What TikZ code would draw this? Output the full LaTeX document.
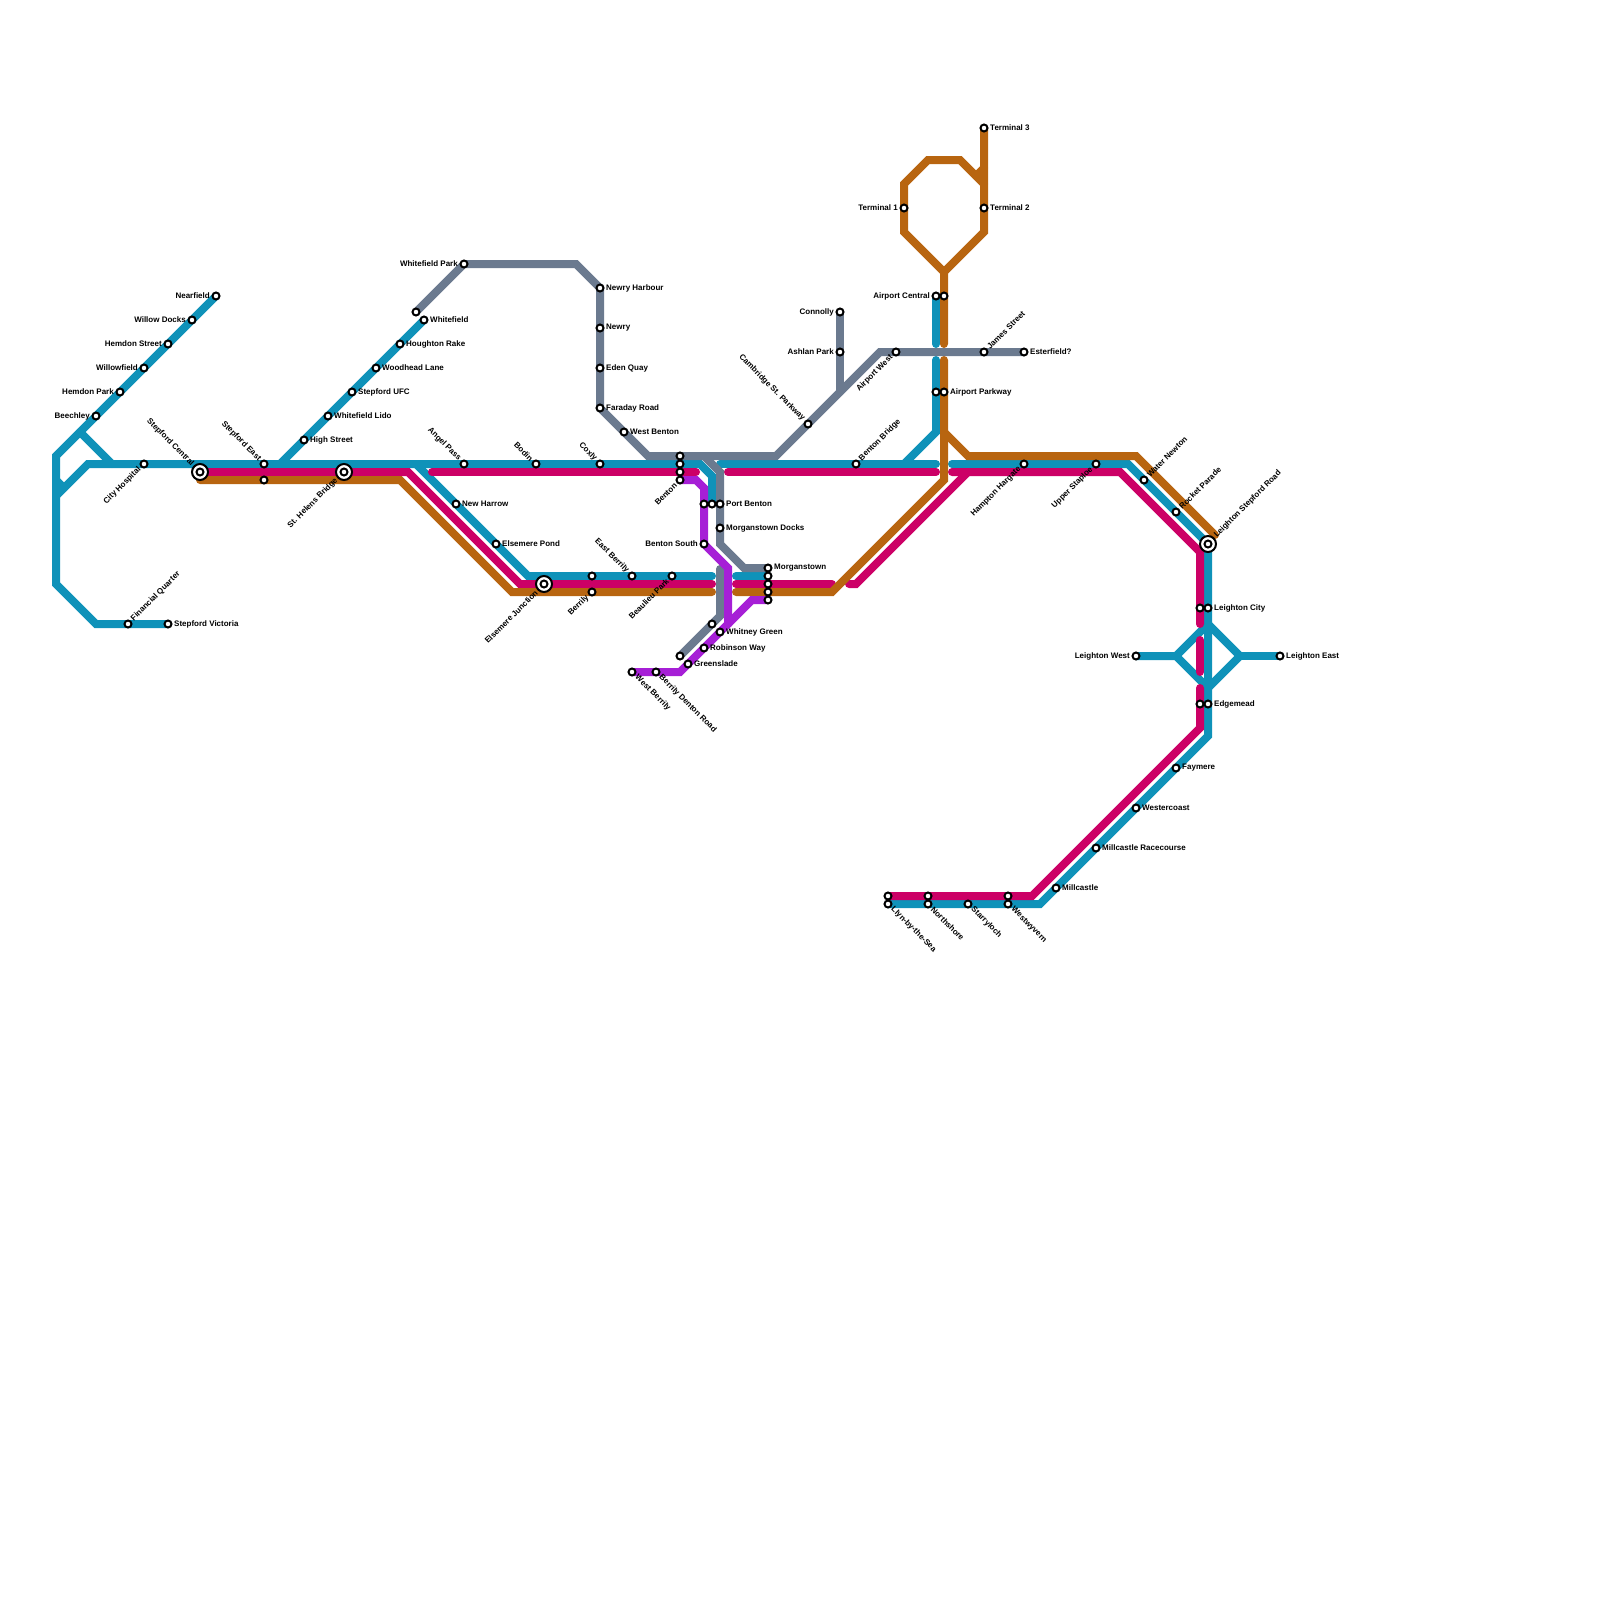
\documentclass[tikz,border=0pt]{standalone}
\usepackage{fontspec}
\setmainfont{Liberation Sans}
\usetikzlibrary{backgrounds}

\definecolor{lineblue}{HTML}{0F92B9}
\definecolor{linepink}{HTML}{CC0066}
\definecolor{lineorange}{HTML}{B86510}
\definecolor{linegrey}{HTML}{6B7A8F}
\definecolor{linepurple}{HTML}{A61FD6}

\tikzset{
  route/.style={line width=8pt, line cap=round, line join=miter, miter limit=10},
  stn/.style={circle, draw=black, fill=white, line width=2pt, minimum size=7pt, inner sep=0pt},
  hub/.style={circle, draw=black, fill=white, line width=2pt, minimum size=16pt, inner sep=0pt},
  lbl/.style={font=\bfseries\fontsize{8}{9}\selectfont, inner sep=1.5pt, text=black},
  lbe/.style={label={[lbl, anchor=west]0:#1}},
  lbw/.style={label={[lbl, anchor=east]180:#1}},
  lne/.style={label={[lbl, rotate=45, anchor=west]45:#1}},
  lsw/.style={label={[lbl, rotate=45, anchor=east]225:#1}},
  lnw/.style={label={[lbl, rotate=-45, anchor=east]135:#1}},
  lse/.style={label={[lbl, rotate=-45, anchor=west]-45:#1}},
}

\begin{document}
\begin{tikzpicture}[x=1pt, y=-1pt]
  \useasboundingbox (0,0) rectangle (1600,1600);

  % --- Western branches ---
  \node[stn, lbw=Nearfield] (nearfield) at (216,296) {};
  \node[stn, lbw=Willow Docks] (willowdocks) at (192,320) {};
  \node[stn, lbw=Hemdon Street] (hemdonst) at (168,344) {};
  \node[stn, lbw=Willowfield] (willowfield) at (144,368) {};
  \node[stn, lbw=Hemdon Park] (hemdonpark) at (120,392) {};
  \node[stn, lbw=Beechley] (beechley) at (96,416) {};
  \node[stn, lsw=City Hospital] (cityhospital) at (144,464) {};
  \node[stn, lne=Financial Quarter] (financial) at (128,624) {};
  \node[stn, lbe=Stepford Victoria] (victoria) at (168,624) {};

  % --- Stepford to Whitefield ---
  \node[hub, lnw=Stepford Central] (central) at (200,472) {};
  \node[stn] (centralin) at (200,472) {};
  \node[stn, lnw=Stepford East] (stepfordeast) at (264,464) {};
  \node[stn] (stepfordeastb) at (264,480) {};
  \node[hub, lsw=St. Helens Bridge] (sthelens) at (344,472) {};
  \node[stn] (sthelensin) at (344,472) {};
  \node[stn, lbe=High Street] (highst) at (304,440) {};
  \node[stn, lbe=Whitefield Lido] (lido) at (328,416) {};
  \node[stn, lbe=Stepford UFC] (ufc) at (352,392) {};
  \node[stn, lbe=Woodhead Lane] (woodhead) at (376,368) {};
  \node[stn, lbe=Houghton Rake] (houghton) at (400,344) {};
  \node[stn, lbe=Whitefield] (whitefield) at (424,320) {};
  \node[stn] (whitefieldb) at (416,312) {};
  \node[stn, lbw=Whitefield Park] (whitefieldpark) at (464,264) {};

  % --- Newry line ---
  \node[stn, lbe=Newry Harbour] (newryharbour) at (600,288) {};
  \node[stn, lbe=Newry] (newry) at (600,328) {};
  \node[stn, lbe=Eden Quay] (edenquay) at (600,368) {};
  \node[stn, lbe=Faraday Road] (faraday) at (600,408) {};
  \node[stn, lbe=West Benton] (westbenton) at (624,432) {};

  % --- Centre ---
  \node[stn, lnw=Angel Pass] (angelpass) at (464,464) {};
  \node[stn, lnw=Bodin] (bodin) at (536,464) {};
  \node[stn, lnw=Coxly] (coxly) at (600,464) {};
  \node[stn, lbe=New Harrow] (newharrow) at (456,504) {};
  \node[stn, lbe=Elsemere Pond] (elsemerepond) at (496,544) {};
  \node[hub, lsw=Elsemere Junction] (elsemere) at (544,584) {};
  \node[stn] (elsemerein) at (544,584) {};
  \node[stn] (berrilyb) at (592,576) {};
  \node[stn, lsw=Berrily] (berrily) at (592,592) {};
  \node[stn, lnw=East Berrily] (eastberrily) at (632,576) {};
  \node[stn, lsw=Beaulieu Park] (beaulieu) at (672,576) {};
  \node[stn] (bentona) at (680,456) {};
  \node[stn] (bentonb) at (680,464) {};
  \node[stn] (bentonc) at (680,472) {};
  \node[stn, lsw=Benton] (benton) at (680,480) {};
  \node[stn] (portbentona) at (704,504) {};
  \node[stn] (portbentonb) at (712,504) {};
  \node[stn, lbe=Port Benton] (portbenton) at (720,504) {};
  \node[stn, lbe=Morganstown Docks] (morgdocks) at (720,528) {};
  \node[stn, lbw=Benton South] (bentonsouth) at (704,544) {};
  \node[stn, lbe=Morganstown] (morganstown) at (768,568) {};
  \node[stn] (morgb) at (768,576) {};
  \node[stn] (morgc) at (768,584) {};
  \node[stn] (morgd) at (768,592) {};
  \node[stn] (morge) at (768,600) {};
  \node[stn] (greya) at (712,624) {};
  \node[stn] (greyb) at (680,656) {};
  \node[stn, lbe=Whitney Green] (whitney) at (720,632) {};
  \node[stn, lbe=Robinson Way] (robinson) at (704,648) {};
  \node[stn, lbe=Greenslade] (greenslade) at (688,664) {};
  \node[stn, lse=West Berrily] (westberrily) at (632,672) {};
  \node[stn, lse=Berrily Denton Road] (denton) at (656,672) {};

  % --- Airport ---
  \node[stn, lnw=Cambridge St. Parkway] (cambridge) at (808,424) {};
  \node[stn, lbw=Connolly] (connolly) at (840,312) {};
  \node[stn, lbw=Ashlan Park] (ashlan) at (840,352) {};
  \node[stn, lsw=Airport West] (airportwest) at (896,352) {};
  \node[stn, lne=James Street] (jamesst) at (984,352) {};
  \node[stn, lbe=Esterfield?] (esterfield) at (1024,352) {};
  \node[stn, lne=Benton Bridge] (bentonbridge) at (856,464) {};
  \node[stn, lbw=Terminal 1] (terminala) at (904,208) {};
  \node[stn, lbe=Terminal 2] (terminalb) at (984,208) {};
  \node[stn, lbe=Terminal 3] (terminalc) at (984,128) {};
  \node[stn, lbw=Airport Central] (aircentral) at (936,296) {};
  \node[stn] (aircentralb) at (944,296) {};
  \node[stn] (airparkwayb) at (936,392) {};
  \node[stn, lbe=Airport Parkway] (airparkway) at (944,392) {};

  % --- Leighton ---
  \node[stn, lsw=Hampton Hargate] (hampton) at (1024,464) {};
  \node[stn, lsw=Upper Staploe] (staploe) at (1096,464) {};
  \node[stn, lne=Water Newton] (waternewton) at (1144,480) {};
  \node[stn, lne=Rocket Parade] (rocket) at (1176,512) {};
  \node[hub, lne=Leighton Stepford Road] (leighton) at (1208,544) {};
  \node[stn] (leightonin) at (1208,544) {};
  \node[stn] (leightoncityb) at (1200,608) {};
  \node[stn, lbe=Leighton City] (leightoncity) at (1208,608) {};
  \node[stn, lbw=Leighton West] (leightonwest) at (1136,656) {};
  \node[stn, lbe=Leighton East] (leightoneast) at (1280,656) {};
  \node[stn] (edgemeadb) at (1200,704) {};
  \node[stn, lbe=Edgemead] (edgemead) at (1208,704) {};

  % --- Coast ---
  \node[stn, lbe=Faymere] (faymere) at (1176,768) {};
  \node[stn, lbe=Westercoast] (westercoast) at (1136,808) {};
  \node[stn, lbe=Millcastle Racecourse] (racecourse) at (1096,848) {};
  \node[stn, lbe=Millcastle] (millcastle) at (1056,888) {};
  \node[stn] (westwyvernb) at (1008,896) {};
  \node[stn, lse=Westwyvern] (westwyvern) at (1008,904) {};
  \node[stn, lse=Starryloch] (starryloch) at (968,904) {};
  \node[stn] (northshoreb) at (928,896) {};
  \node[stn, lse=Northshore] (northshore) at (928,904) {};
  \node[stn] (llynb) at (888,896) {};
  \node[stn, lse=Llyn-by-the-Sea] (llyn) at (888,904) {};

  % Bends and free ends
  \coordinate (bwa) at (56,456);
  \coordinate (bwb) at (56,584);
  \coordinate (bwc) at (96,624);
  \coordinate (bwd) at (80,432);
  \coordinate (bwe) at (112,464);
  \coordinate (bwf) at (56,496);
  \coordinate (bwg) at (88,464);
  \coordinate (bwh) at (56,480);
  \coordinate (bwi) at (64,488);
  \coordinate (bwj) at (280,464);
  \coordinate (bla) at (700,464);
  \coordinate (blb) at (712,476);
  \coordinate (blc) at (416,464);
  \coordinate (bld) at (528,576);
  \coordinate (ble) at (712,576);
  \coordinate (blf) at (736,576);
  \coordinate (blg) at (720,464);
  \coordinate (blh) at (936,464);
  \coordinate (bli) at (904,464);
  \coordinate (blj) at (936,432);
  \coordinate (blk) at (936,360);
  \coordinate (bll) at (936,344);
  \coordinate (blm) at (952,464);
  \coordinate (bln) at (1128,464);
  \coordinate (blo) at (1208,736);
  \coordinate (blp) at (1040,904);
  \coordinate (bqw) at (1176,656);
  \coordinate (bqn) at (1208,624);
  \coordinate (bqe) at (1240,656);
  \coordinate (bqs) at (1208,688);
  \coordinate (pka) at (408,472);
  \coordinate (pkb) at (520,584);
  \coordinate (pkc) at (712,584);
  \coordinate (pkd) at (736,584);
  \coordinate (pke) at (832,584);
  \coordinate (pkf) at (849,584);
  \coordinate (pkg) at (856,584);
  \coordinate (pkh) at (968,472);
  \coordinate (pki) at (952,472);
  \coordinate (pkj) at (1120,472);
  \coordinate (pkk) at (1200,552);
  \coordinate (pkl) at (1200,624);
  \coordinate (pkm) at (1200,640);
  \coordinate (pkn) at (1200,672);
  \coordinate (pko) at (1200,688);
  \coordinate (pkp) at (1200,728);
  \coordinate (pkq) at (1032,896);
  \coordinate (pkr) at (432,472);
  \coordinate (pks) at (696,472);
  \coordinate (pkt) at (728,472);
  \coordinate (pku) at (936,472);
  \coordinate (ora) at (400,480);
  \coordinate (orb) at (512,592);
  \coordinate (orc) at (712,592);
  \coordinate (ord) at (736,592);
  \coordinate (ore) at (832,592);
  \coordinate (orf) at (944,480);
  \coordinate (org) at (944,360);
  \coordinate (orh) at (944,344);
  \coordinate (ori) at (944,272);
  \coordinate (orj) at (984,232);
  \coordinate (ork) at (904,232);
  \coordinate (orl) at (904,184);
  \coordinate (orm) at (928,160);
  \coordinate (orn) at (960,160);
  \coordinate (oro) at (984,184);
  \coordinate (orp) at (984,168);
  \coordinate (orq) at (976,176);
  \coordinate (orr) at (944,432);
  \coordinate (ors) at (968,456);
  \coordinate (ort) at (1136,456);
  \coordinate (oru) at (1215,535);
  \coordinate (ors0) at (200,480);
  \coordinate (gra) at (576,264);
  \coordinate (grb) at (648,456);
  \coordinate (grc) at (776,456);
  \coordinate (grd) at (880,352);
  \coordinate (gre) at (840,392);
  \coordinate (grf) at (704,456);
  \coordinate (grg) at (720,472);
  \coordinate (grh) at (720,544);
  \coordinate (gri) at (744,568);
  \coordinate (grj) at (720,569);
  \coordinate (grk) at (720,616);
  \coordinate (pua) at (696,480);
  \coordinate (pub) at (704,488);
  \coordinate (puc) at (728,568);
  \coordinate (pud) at (728,624);
  \coordinate (pue) at (680,672);
  \coordinate (puf) at (752,600);

  \begin{scope}[on background layer]
    % Blue
    \draw[route, lineblue] (nearfield.center) -- (bwa) -- (bwb) -- (bwc) -- (victoria.center);
    \draw[route, lineblue] (bwd) -- (bwe);
    \draw[route, lineblue] (bwf) -- (bwg) -- (bla) -- (blb) -- (portbentonb.center);
    \draw[route, lineblue] (bwh) -- (bwi);
    \draw[route, lineblue] (whitefield.center) -- (bwj);
    \draw[route, lineblue] (blc) -- (bld) -- (ble);
    \draw[route, lineblue] (blf) -- (morgb.center);
    \draw[route, lineblue] (blg) -- (blh);
    \draw[route, lineblue] (bli) -- (blj) -- (blk);
    \draw[route, lineblue] (bll) -- (aircentral.center);
    \draw[route, lineblue] (blm) -- (bln) -- (leighton.center) -- (blo) -- (blp) -- (llyn.center);
    \draw[route, lineblue] (leightonwest.center) -- (bqw) -- (bqn) -- (bqe) -- (bqs) -- (bqw);
    \draw[route, lineblue] (bqe) -- (leightoneast.center);
    % Pink
    \draw[route, linepink] (central.center) -- (pka) -- (pkb) -- (pkc);
    \draw[route, linepink] (pkr) -- (pks);
    \draw[route, linepink] (pkt) -- (pku);
    \draw[route, linepink] (pkd) -- (pke);
    \draw[route, linepink] (pkf) -- (pkg) -- (pkh);
    \draw[route, linepink] (pki) -- (pkj) -- (pkk) -- (pkl);
    \draw[route, linepink] (pkm) -- (pkn);
    \draw[route, linepink] (pko) -- (pkp) -- (pkq) -- (llynb.center);
    % Orange
    \draw[route, lineorange] (ors0) -- (ora) -- (orb) -- (orc);
    \draw[route, lineorange] (ord) -- (ore) -- (orf) -- (org);
    \draw[route, lineorange] (orh) -- (ori) -- (orj) -- (terminalc.center);
    \draw[route, lineorange] (ori) -- (ork) -- (orl) -- (orm) -- (orn) -- (oro);
    \draw[route, lineorange] (orp) -- (orq);
    \draw[route, lineorange] (orr) -- (ors) -- (ort) -- (oru);
    % Grey
    \draw[route, linegrey] (whitefieldb.center) -- (whitefieldpark.center) -- (gra) -- (newryharbour.center) -- (faraday.center) -- (grb) -- (grc) -- (grd) -- (esterfield.center);
    \draw[route, linegrey] (connolly.center) -- (gre);
    \draw[route, linegrey] (grf) -- (grg) -- (grh) -- (gri) -- (morganstown.center);
    \draw[route, linegrey] (grj) -- (grk) -- (greyb.center);
    % Purple
    \draw[route, linepurple] (benton.center) -- (pua) -- (pub) -- (bentonsouth.center) -- (puc) -- (pud) -- (pue) -- (westberrily.center);
    \draw[route, linepurple] (pud) -- (puf) -- (morge.center);
  \end{scope}
\end{tikzpicture}
\end{document}
